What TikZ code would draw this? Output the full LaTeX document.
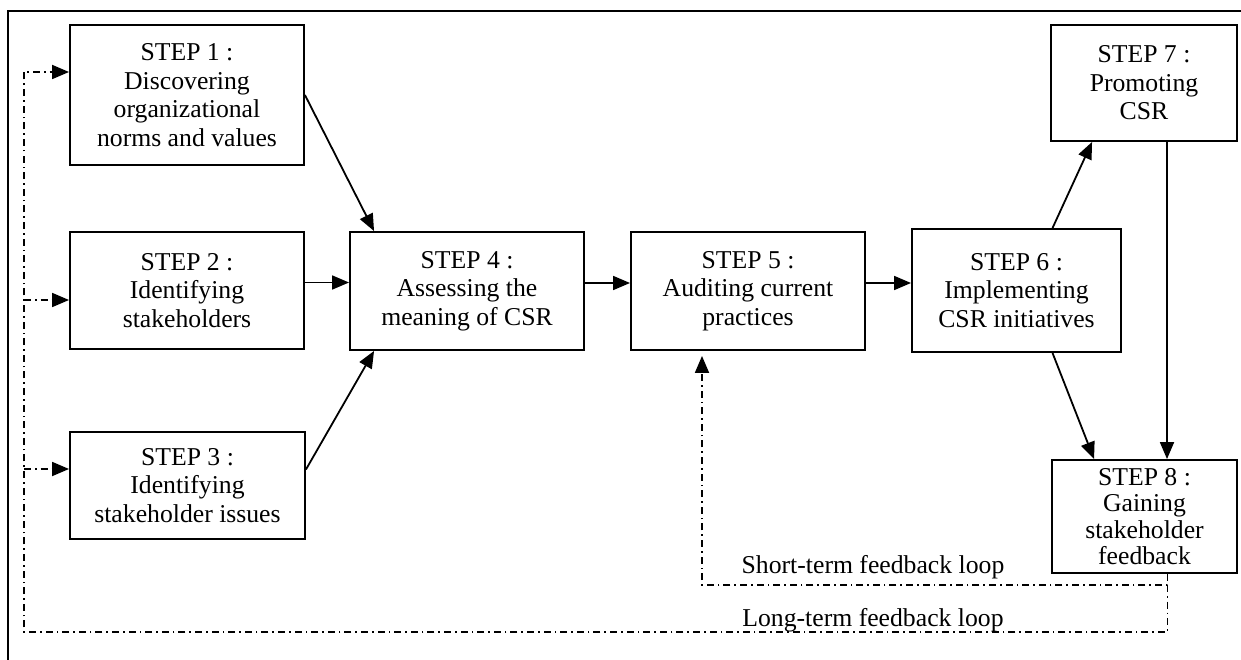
\documentclass[tikz,border=0pt]{standalone}
\usepackage{fontspec}
\setmainfont{Liberation Serif}
\usetikzlibrary{arrows.meta,calc}
\begin{document}
\begin{tikzpicture}[x=1pt,y=-1pt,
  box/.style={draw,line width=1.9pt,inner sep=0pt,align=center,font=\fontsize{25.7}{28.5}\selectfont},
  arr/.style={line width=1.8pt,-{Triangle[length=17pt,width=14pt]}},
  fb/.style={line width=1.6pt,dash pattern=on 7pt off 4pt on 1.6pt off 4pt},
  lbl/.style={font=\fontsize{25.7}{28.5}\selectfont,inner sep=0pt}]
\useasboundingbox (0,0) rectangle (1241,660);
% frame
\draw[line width=2.4pt] (1241,11) -- (8,11) -- (8,660);
% boxes
\node[box,minimum width=234pt,minimum height=140pt] (s1) at (187,95) {STEP 1 :\\Discovering\\organizational\\norms and values};
\node[box,minimum width=234pt,minimum height=117pt] (s2) at (187,290.5) {STEP 2 :\\Identifying\\stakeholders};
\node[box,minimum width=235pt,minimum height=107pt] (s3) at (187.5,485.5) {STEP 3 :\\Identifying\\stakeholder issues};
\node[box,minimum width=234pt,minimum height=118pt] (s4) at (467,291) {STEP 4 :\\Assessing the\\meaning of CSR};
\node[box,minimum width=234pt,minimum height=118pt] (s5) at (748,291) {STEP 5 :\\Auditing current\\practices};
\node[box,minimum width=209pt,minimum height=123pt] (s6) at (1016.5,290.5) {STEP 6 :\\Implementing\\CSR initiatives};
\node[box,minimum width=186pt,minimum height=116pt] (s7) at (1144,83) {STEP 7 :\\Promoting\\CSR};
\node[box,minimum width=185pt,minimum height=113pt,font=\fontsize{25.7}{26.5}\selectfont] (s8) at (1144.5,516.5) {STEP 8 :\\Gaining\\stakeholder\\feedback};
% solid arrows
\draw[arr] (s1.east) -- ([xshift=25pt]s4.north west);
\draw[arr] ([yshift=8pt]s2.east) -- ([yshift=8pt]s2.east -| s4.west);
\draw[arr] ([yshift=16pt]s3.east) -- ([xshift=25pt]s4.south west);
\draw[arr] ([yshift=8pt]s4.east) -- ([yshift=8pt]s4.east -| s5.west);
\draw[arr] ([yshift=8pt]s5.east) -- ([yshift=8pt]s5.east -| s6.west);
\draw[arr] ([xshift=36pt]s6.north) -- ([xshift=42pt]s7.south west);
\draw[arr] ([xshift=36pt]s6.south) -- ([xshift=43pt]s8.north west);
\draw[arr] ([xshift=23pt]s7.south) -- ([xshift=23pt]s7.south |- s8.north);
% feedback loops
\coordinate (fbA) at ([xshift=23pt]s8.south);
\coordinate (fbS) at (1167.5,585);
\coordinate (fbL) at (1167.5,632);
\coordinate (s5in) at ([xshift=-46pt,yshift=-5pt]s5.south);
\coordinate (lft) at (24,72);
\coordinate (b2) at (24,300);
\coordinate (b3) at (24,469);
\draw[fb,arr] (fbA) -- (fbS) -| (s5in);
\draw[fb,arr] (fbS) -- (fbL) -| (lft) -- (lft -| s1.west);
\draw[fb,arr] (b2) -- (b2 -| s2.west);
\draw[fb,arr] (b3) -- (b3 -| s3.west);
\node[lbl] (st) at (873,567) {Short-term feedback loop};
\node[lbl] (lt) at (873,620) {Long-term feedback loop};
\end{tikzpicture}
\end{document}
